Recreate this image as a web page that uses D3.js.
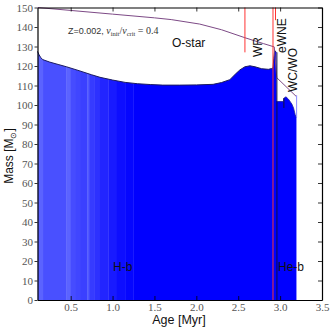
<!DOCTYPE html>
<html><head><meta charset="utf-8">
<script src="https://cdn.jsdelivr.net/npm/d3@7"></script>
<style>body{margin:0;background:#fff}</style>
</head><body>
<svg id="c" width="333" height="329"></svg>
<script>
// ---- data ----
const massAges = [0.104,0.12,0.14,0.165,0.25,0.35,0.45,0.6,0.75,0.85,1.0,1.15,1.3,1.45,1.6,1.8,2.0,2.2,2.3,2.4,2.47,2.52,2.58,2.64,2.7,2.78,2.86,2.90,2.915,2.925,2.935,2.955,2.96,2.965,3.04,3.045,3.07,3.1,3.14,3.16,3.18,3.195];
const massVals = [127.5,126,124.5,123.3,122,120.8,119.6,117.6,115.5,114.2,112.8,111.6,110.9,110.5,110.2,110.2,110.3,110.6,111.5,113,116,118,119.6,120.1,119.6,118.6,118.3,118.7,119,124,128,127,102,101.8,101.8,103.5,104.2,103,100.5,98.5,95,93.5];
const initAges = [0.104,0.5,1.0,1.5,1.7,2.04,2.3,2.58,2.8,2.93,2.96,3.19];
const initVals = [150,148.5,146.6,144.7,143.8,141.5,138.6,134.5,131.5,129.8,114,104.5];
const stripeAges = [0.104,0.17,0.45,0.50,0.56,0.62,0.70,0.72,0.78,0.85,0.95,1.05,1.15,1.25];
const stripeShades = [0.85,0.68,0.85,0.65,0.6,0.55,0.75,0.5,0.42,0.32,0.22,0.12,0.05,0];
const phaseLinesRed = [{age:2.58,from:127,to:150},{age:2.915,from:0,to:150},{age:2.945,from:143.5,to:150}];
const heIgnitionAge = 2.962;
const xTicks = [0.5,1.0,1.5,2.0,2.5,3.0,3.5];
const yTicks = d3.range(0,151,10);
const xDomain = [0.104,3.5];
const yDomain = [0,150];

// ---- layout ----
const svg = d3.select("#c");
const L=37.5, T=7.5, R=322, B=300;
const x = d3.scaleLinear().domain(xDomain).range([L,R]);
const y = d3.scaleLinear().domain(yDomain).range([B,T]);
const mass = massAges.map((a,i)=>[a,massVals[i]]);

const area = d3.area().x(d=>x(d[0])).y0(y(0)).y1(d=>y(d[1]));
svg.append("clipPath").attr("id","mclip").append("path").attr("d",area(mass));
const col = d3.interpolateRgb("#0000ff","#6b75ff");
const g = svg.append("g").attr("clip-path","url(#mclip)");
stripeAges.forEach((a,i)=>{
  const end = i<stripeAges.length-1 ? stripeAges[i+1] : 3.3;
  g.append("rect").attr("x",x(a)).attr("y",T).attr("width",x(end)-x(a)+0.3).attr("height",B-T)
   .attr("fill",col(stripeShades[i]));
});
// outline
svg.append("path").attr("d",d3.line().x(d=>x(d[0])).y(d=>y(d[1]))(mass.filter(d=>d[0]<=2.955)))
  .attr("fill","none").attr("stroke","#1c1c60").attr("stroke-width",1);
svg.append("path").attr("d",d3.line().x(d=>x(d[0])).y(d=>y(d[1]))(mass.filter(d=>d[0]>=2.965)))
  .attr("fill","none").attr("stroke","#2020a0").attr("stroke-width",0.8);
svg.append("line").attr("x1",x(3.045)).attr("x2",x(3.045)).attr("y1",y(103.5)).attr("y2",y(98.5)).attr("stroke","#101040").attr("stroke-width",1);
svg.append("line").attr("x1",x(3.197)).attr("x2",x(3.197)).attr("y1",y(105)).attr("y2",y(93.5)).attr("stroke","#8a8aff").attr("stroke-width",1);

// initial mass line
svg.append("path").attr("d",d3.line().x((d,i)=>x(d)).y((d,i)=>y(initVals[i]))(initAges))
  .attr("fill","none").attr("stroke","#7d4a86").attr("stroke-width",1);

// phase lines
phaseLinesRed.forEach(p=>{
  svg.append("line").attr("x1",x(p.age)).attr("x2",x(p.age)).attr("y1",y(p.from)).attr("y2",y(p.to))
   .attr("stroke","#ff3333").attr("stroke-width",1);
});
svg.append("line").attr("x1",x(heIgnitionAge)).attr("x2",x(heIgnitionAge)).attr("y1",y(0)).attr("y2",y(127))
  .attr("stroke","#101030").attr("stroke-width",0.9);

// axes
const fmtX = d3.format(".1f");
const ax = svg.append("g").attr("transform",`translate(0,${B})`)
  .call(d3.axisBottom(x).tickValues(xTicks).tickSizeInner(-4).tickSizeOuter(0).tickPadding(3).tickFormat(fmtX));
const axT = svg.append("g").attr("transform",`translate(0,${T})`)
  .call(d3.axisTop(x).tickValues(xTicks).tickSizeInner(-4).tickSizeOuter(0).tickFormat(""));
const ay = svg.append("g").attr("transform",`translate(${L},0)`)
  .call(d3.axisLeft(y).tickValues(yTicks).tickSizeInner(3).tickSizeOuter(0).tickPadding(1.5));
const ayR = svg.append("g").attr("transform",`translate(${R},0)`)
  .call(d3.axisRight(y).tickValues(yTicks).tickSizeInner(-4).tickSizeOuter(0).tickFormat(""));
[ax,axT,ay,ayR].forEach(a=>{
  a.select(".domain").attr("stroke","#000").attr("stroke-width",1.2);
  a.selectAll(".tick line").attr("stroke","#000").attr("stroke-width",0.8);
  a.selectAll("text").attr("font-family","'Liberation Serif','DejaVu Serif',serif").attr("font-size",11).attr("fill","#555");
});

// labels
const sans = "'Liberation Sans',Arial,sans-serif";
svg.append("text").attr("transform","translate(13,156) rotate(-90)").attr("text-anchor","middle")
  .attr("font-family",sans).attr("font-size",12).attr("fill","#111")
  .call(t=>{t.append("tspan").text("Mass [M");t.append("tspan").attr("font-size",8).attr("dy",3).text("⊙");t.append("tspan").attr("dy",-3).text("]");});
svg.append("text").attr("x",179).attr("y",324).attr("text-anchor","middle")
  .attr("font-family",sans).attr("font-size",12.5).attr("fill","#111").text("Age [Myr]");

const zt = svg.append("text").attr("x",68).attr("y",34).attr("font-size",9).attr("fill","#333").attr("font-family",sans);
zt.append("tspan").text("Z=0.002, ");
const ser = "'Liberation Serif','DejaVu Serif',serif";
zt.append("tspan").attr("font-family",ser).attr("font-style","italic").attr("font-size",10).text("v");
zt.append("tspan").attr("font-family",ser).attr("font-size",6.5).attr("dy",2).text("init");
zt.append("tspan").attr("font-family",ser).attr("font-size",10).attr("dy",-2).text("/");
zt.append("tspan").attr("font-family",ser).attr("font-style","italic").attr("font-size",10).text("v");
zt.append("tspan").attr("font-family",ser).attr("font-size",6.5).attr("dy",2).text("crit");
zt.append("tspan").attr("font-family",ser).attr("font-size",10).attr("dy",-2).text(" = 0.4");

function lab(t,px,py,rot,anchor){
  svg.append("text").attr("transform",`translate(${px},${py})`+(rot?` rotate(${rot})`:""))
    .attr("text-anchor",anchor||"start").attr("font-family",sans).attr("font-size",12).attr("fill","#111").text(t);
}
lab("O-star",172,47);
lab("WR",262,57,-90);
lab("eWNE",286,53,-90);
lab("WC/WO",297,92,-90);
lab("H-b",113,271);
lab("He-b",278,271);
</script>
</body></html>
